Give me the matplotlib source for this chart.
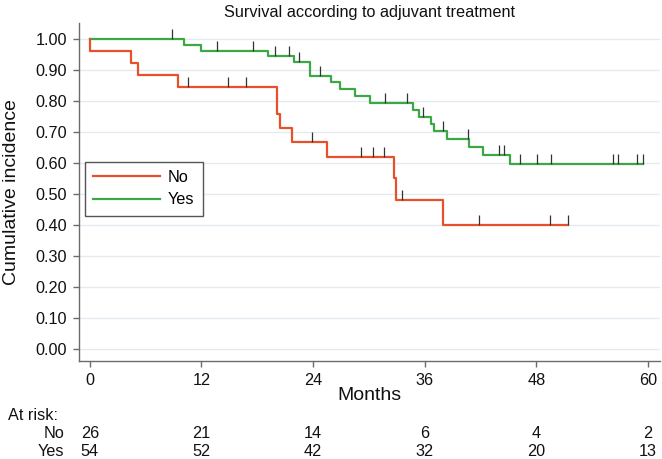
import numpy as np
import matplotlib
matplotlib.use("Agg")
import matplotlib.pyplot as plt
from matplotlib import transforms
from matplotlib.path import Path
from matplotlib.lines import Line2D

plt.rcParams['font.family'] = ['Liberation Sans', 'DejaVu Sans']

# ---- data ----
groups = ["No", "Yes"]
no_times = [0.0, 4.4, 5.2, 9.5, 20.1, 20.4, 21.7, 25.5, 32.7, 32.9, 38.0]
no_surv = [0.962, 0.923, 0.885, 0.846, 0.757, 0.713, 0.668, 0.620, 0.551, 0.482, 0.401]
no_end = 51.4
no_censor = [10.6, 14.8, 16.8, 23.9, 29.2, 30.4, 31.6, 33.6, 41.8, 49.5, 51.4]

yes_times = [10.1, 12.0, 19.1, 22.0, 23.7, 25.9, 26.9, 28.5, 30.1, 34.7, 35.4,
             36.7, 37.0, 38.4, 40.8, 42.3, 45.2]
yes_surv = [0.981, 0.962, 0.945, 0.925, 0.882, 0.860, 0.839, 0.817, 0.795, 0.771,
            0.748, 0.726, 0.704, 0.677, 0.653, 0.627, 0.598]
yes_end = 59.5
yes_censor = [8.8, 13.7, 17.5, 19.9, 21.4, 22.5, 24.7, 31.7, 34.1, 35.8, 38.0,
              40.7, 44.0, 44.5, 46.3, 48.1, 49.6, 56.2, 56.8, 58.8, 59.5]

risk_months = [0, 12, 24, 36, 48, 60]
risk_no = [26, 21, 14, 6, 4, 2]
risk_yes = [54, 52, 42, 32, 20, 13]

yticks = [0.0, 0.1, 0.2, 0.3, 0.4, 0.5, 0.6, 0.7, 0.8, 0.9, 1.0]

# ---- style ----
RED = "#E8502C"
GREEN = "#3DA744"
AXC = "#6b6b6b"
GRID = "#E3EBF0"
FS = 11.7
W, H = 662, 459

fig = plt.figure(figsize=(W / 100, H / 100), dpi=100)
ax = fig.add_axes([78.7 / W, 1 - 360.7 / H, (660 - 78.7) / W, (360.7 - 22.8) / H])


def km_curve(times, surv, end):
    x = [0.0] + list(times) + [end]
    y = [1.0] + list(surv) + [surv[-1]]
    return np.array(x), np.array(y)


def surv_at(t, times, surv):
    idx = np.searchsorted(np.array(times), t, side='right') - 1
    return 1.0 if idx < 0 else surv[idx]


tick_marker = Path([(0, 0), (0, 1)], [Path.MOVETO, Path.LINETO])

for times, surv, end, cens, col in [
    (yes_times, yes_surv, yes_end, yes_censor, GREEN),
    (no_times, no_surv, no_end, no_censor, RED),
]:
    x, y = km_curve(times, surv, end)
    ax.step(x, y, where='post', color=col, lw=1.6, zorder=3)
    cy = [surv_at(t, times, surv) for t in cens]
    ax.plot(cens, cy, linestyle='none', marker=tick_marker, markersize=14,
            markeredgecolor="#333333", markeredgewidth=0.9, zorder=4)

ax.set_xlim(-1.2, 61.3)
ax.set_ylim(-0.0367, 1.052)
ax.set_yticks(yticks)
ax.set_yticklabels([f"{v:.2f}" for v in yticks])
ax.set_xticks(risk_months)
ax.set_xticklabels([str(m) for m in risk_months])
ax.grid(axis='y', color=GRID, lw=1.0, zorder=0)
ax.set_axisbelow(True)
for s in ['top', 'right']:
    ax.spines[s].set_visible(False)
for s in ['left', 'bottom']:
    ax.spines[s].set_color(AXC)
    ax.spines[s].set_linewidth(1.0)
ax.tick_params(axis='both', colors=AXC, length=4.3, width=1.0, pad=4.3,
               labelsize=FS, labelcolor='#111111')

# title and axis titles
fig.text(369 / W, 1 - 12 / H, "Survival according to adjuvant treatment",
         ha='center', va='center', fontsize=FS, color='#111111')
fig.text(12 / W, 1 - 192 / H, "Cumulative incidence", rotation=90,
         ha='center', va='center', fontsize=14, color='#111111')
fig.text(369 / W, 1 - 396 / H, "Months", ha='center', va='center',
         fontsize=14, color='#111111')

# legend
handles = [Line2D([], [], color=RED, lw=1.6), Line2D([], [], color=GREEN, lw=1.6)]
leg = ax.legend(handles, groups, loc='upper left',
                bbox_to_anchor=((85 - 78.7) / (660 - 78.7), (360.7 - 162) / (360.7 - 22.8)),
                borderaxespad=0, fontsize=FS, handlelength=4.1, handletextpad=0.5,
                labelspacing=0.45, borderpad=0.5, fancybox=False, framealpha=1,
                edgecolor='#555555')
leg.get_frame().set_linewidth(1.0)

# at-risk table
tr = transforms.blended_transform_factory(ax.transData, fig.transFigure)
fig.text(8 / W, 1 - 416 / H, "At risk:", ha='left', va='center', fontsize=FS, color='#111111')
fig.text(64 / W, 1 - 434 / H, groups[0], ha='right', va='center', fontsize=FS, color='#111111')
fig.text(64 / W, 1 - 451 / H, groups[1], ha='right', va='center', fontsize=FS, color='#111111')
for m, a, b in zip(risk_months, risk_no, risk_yes):
    ax.text(m, 1 - 434 / H, str(a), transform=tr, ha='center', va='center',
            fontsize=FS, color='#111111', clip_on=False)
    ax.text(m, 1 - 451 / H, str(b), transform=tr, ha='center', va='center',
            fontsize=FS, color='#111111', clip_on=False)

fig.savefig("out.png", dpi=100)
